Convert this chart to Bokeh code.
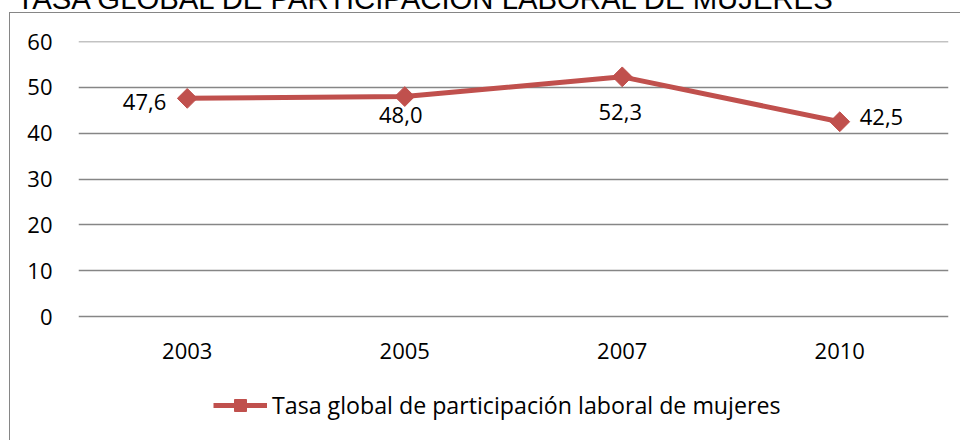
import math
from bokeh.plotting import figure
from bokeh.models import (ColumnDataSource, FactorRange, FixedTicker, Legend, LegendItem,
                          Range1d)
from bokeh.core.properties import value
from bokeh.embed import file_html
from bokeh.resources import INLINE

# ---------------- data ----------------
title_text = "TASA GLOBAL DE PARTICIPACIÓN LABORAL DE MUJERES"
years = ["2003", "2005", "2007", "2010"]
rates = [47.6, 48.0, 52.3, 42.5]
series_name = "Tasa global de participación laboral de mujeres"
y_ticks = [0, 10, 20, 30, 40, 50, 60]

# ---------------- style ----------------
FONT = "Open Sans"
FS = "22px"
LEGEND_FS = "23.2px"
RED = "#C0504D"
GRID = "#868686"
SHIFT = 48          # canvas part pushed above the page top (title is cut off there)
PLOT_H = 275        # pixel height of the 0..60 band
BELOW = 124         # pixels below the 0 line kept inside the frame (room for legend)
label_align = ["right", "center", "center", "left"]
label_dx = [-21, -4, -2, 20]
label_dy = [4, 18, 35, -5]

y_top = max(y_ticks)
y_bottom = -BELOW * y_top / PLOT_H

p = figure(x_range=FactorRange(factors=years, range_padding=0),
           y_range=Range1d(y_bottom, y_top + 0.01),
           frame_width=870, frame_height=PLOT_H + BELOW,
           min_border_left=78, min_border_right=12,
           min_border_top=41 + SHIFT, min_border_bottom=0,
           output_backend="svg", toolbar_location=None)
p.outline_line_color = None
p.background_fill_color = "white"
p.border_fill_color = None
p.styles = {
    "margin-top": f"-{SHIFT}px",
    "background-color": "white",
    "background-image": f"linear-gradient({GRID}, {GRID}), linear-gradient({GRID}, {GRID})",
    "background-position": f"9px {12 + SHIFT}px, 9px {12 + SHIFT}px",
    "background-size": "1px 2000px, 2000px 1px",
    "background-repeat": "no-repeat",
}

p.title.text = title_text
p.title.text_font = "Liberation Sans"
p.title.text_font_size = "29.3px"
p.title.text_font_style = "normal"
p.title.text_color = "black"
p.title.align = "left"
p.title.vertical_align = "top"
p.title.offset = -62
p.title.standoff = 50

p.xgrid.visible = False
p.ygrid.grid_line_color = GRID
p.ygrid.grid_line_width = 1.3

p.yaxis.ticker = FixedTicker(ticks=y_ticks)
for ax in (p.xaxis, p.yaxis):
    ax.axis_line_color = None
    ax.major_tick_line_color = None
    ax.minor_tick_line_color = None
    ax.major_tick_in = 0
    ax.major_tick_out = 0
    ax.major_label_text_font = FONT
    ax.major_label_text_font_size = FS
    ax.major_label_text_color = "black"
p.yaxis.major_label_standoff = 26
p.xaxis.major_label_standoff = 26
p.xaxis.fixed_location = 0

src = ColumnDataSource(dict(year=years, rate=rates))
line_r = p.line(x="year", y="rate", source=src, line_color=RED, line_width=5)
pts_r = p.scatter(x="year", y="rate", source=src, marker="square", angle=math.pi / 4,
                  size=14, fill_color=RED, line_color=RED)

for yr, v, al, dx, dy in zip(years, rates, label_align, label_dx, label_dy):
    s = ColumnDataSource(dict(x=[yr], y=[v], t=[f"{v:.1f}".replace(".", ",")]))
    p.text(x="x", y="y", text="t", source=s, text_align=al, text_baseline="middle",
           x_offset=dx, y_offset=dy, text_font=value(FONT), text_font_size=FS,
           text_color="black")

legend = Legend(items=[LegendItem(label=series_name, renderers=[line_r, pts_r])],
                location=(135, 19), orientation="horizontal",
                glyph_width=54, glyph_height=30, label_standoff=5,
                padding=0, margin=0, spacing=0,
                border_line_color=None, background_fill_alpha=0,
                label_text_font=FONT, label_text_font_size=LEGEND_FS,
                label_text_color="black")
p.add_layout(legend)

open("out.html", "w").write(file_html(p, INLINE))
